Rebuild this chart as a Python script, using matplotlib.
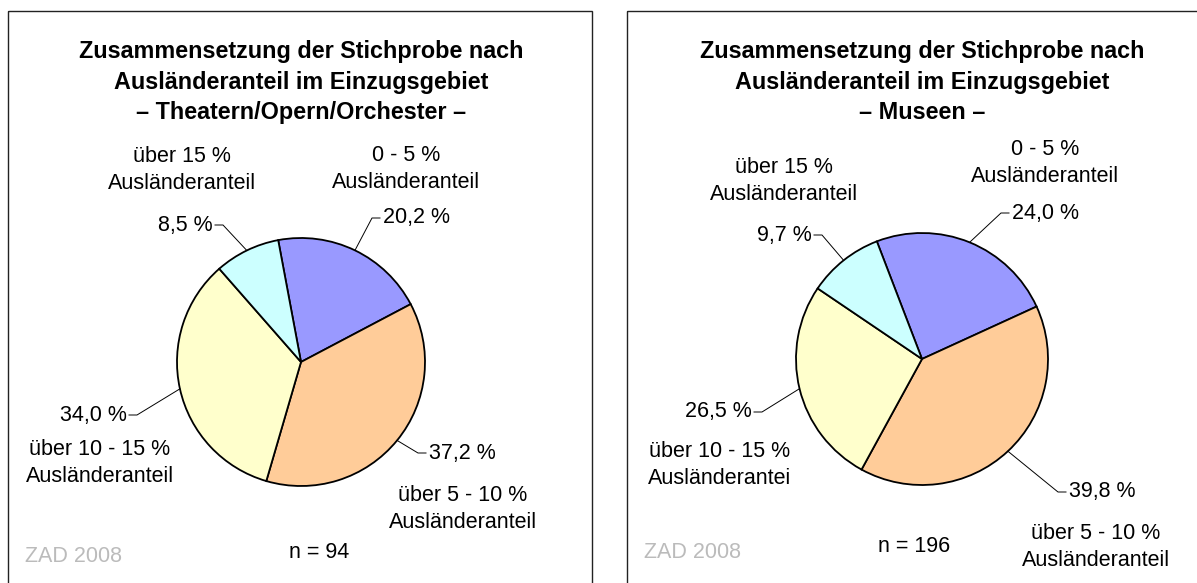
import numpy as np
import matplotlib
matplotlib.use("Agg")
import matplotlib.pyplot as plt
import matplotlib.patches as patches

plt.rcParams['font.family'] = ['Liberation Sans', 'DejaVu Sans']

# data
categories = ['0 - 5 %', 'über 5 - 10 %', 'über 10 - 15 %', 'über 15 %']
theater_values = [20.2, 37.2, 34.0, 8.5]
museen_values = [24.0, 39.8, 26.5, 9.7]
theater_cat_labels = ['0 - 5 %\nAusländeranteil', 'über 5 - 10 %\nAusländeranteil',
                      'über 10 - 15 %\nAusländeranteil', 'über 15 %\nAusländeranteil']
museen_cat_labels = ['0 - 5 %\nAusländeranteil', 'über 5 - 10 %\nAusländeranteil',
                     'über 10 - 15 %\nAusländerantei', 'über 15 %\nAusländeranteil']
colors = ['#9999FF', '#FFCC99', '#FFFFCC', '#CCFFFF']

W, H = 1197, 583
FS = 15.5
fig = plt.figure(figsize=(W / 100, H / 100), dpi=100)

# overlay axes in pixel coords (y from top)
ov = fig.add_axes([0, 0, 1, 1], zorder=3)
ov.set_xlim(0, W)
ov.set_ylim(H, 0)
ov.axis('off')


def pct(v):
    return f"{v:.1f}".replace('.', ',') + " %"


def draw_panel(x0, x1, subtitle, values, cat_labels, center, r, start,
               cat_pos, val_pos, n_text, n_pos):
    # frame
    ov.add_patch(patches.Rectangle((x0, 11), x1 - x0, 620, fill=False,
                                   ec='#222222', lw=1.0))
    cx, cy = center
    ov.text(cx, 82, "Zusammensetzung der Stichprobe nach\nAusländeranteil im Einzugsgebiet\n– "
            + subtitle + " –", ha='center', va='center', fontsize=16.8,
            fontweight='bold', linespacing=1.43)

    lim = 1.05
    s = r * lim
    ax = fig.add_axes([(cx - s) / W, 1 - (cy + s) / H, 2 * s / W, 2 * s / H], zorder=2)
    wedges, _ = ax.pie(values, colors=colors, startangle=start, counterclock=False,
                       radius=1, wedgeprops=dict(edgecolor='black', linewidth=1.3))
    ax.set_xlim(-lim, lim)
    ax.set_ylim(-lim, lim)
    ax.axis('off')

    for w, v, lab, cp, vp in zip(wedges, values, cat_labels, cat_pos, val_pos):
        ang = np.deg2rad((w.theta1 + w.theta2) / 2)
        disp = ax.transData.transform((np.cos(ang), np.sin(ang)))
        ex, ey = ov.transData.inverted().transform(disp)
        lx, ly, side = vp
        if side == 'left':
            # label to the right of the leader
            ov.plot([ex, lx - 11, lx - 3], [ey, ly, ly], color='black', lw=0.7)
            ov.text(lx, ly, pct(v), ha='left', va='center', fontsize=FS)
        else:
            ov.plot([ex, lx + 10, lx + 2], [ey, ly, ly], color='black', lw=0.7)
            ov.text(lx, ly, pct(v), ha='right', va='center', fontsize=FS)
        ov.text(cp[0], cp[1], lab, ha='center', va='center', fontsize=FS,
                linespacing=1.42, multialignment='center')

    ov.text(n_pos[0], n_pos[1], n_text, ha='center', va='center', fontsize=FS)
    ov.text(x0 + 17, n_pos[1] + 5, "ZAD 2008", ha='left', va='center',
            fontsize=FS, color='#BBBBBB')


draw_panel(8, 592, "Theatern/Opern/Orchester", theater_values, theater_cat_labels,
           center=(301, 362), r=124, start=100.6,
           cat_pos=[(406, 169), (463, 509), (100, 463), (182, 170)],
           val_pos=[(383, 218, 'left'), (429, 453, 'left'),
                    (127, 415, 'right'), (213, 225, 'right')],
           n_text="n = 94", n_pos=(319, 552))

draw_panel(627, 1230, "Museen", museen_values, museen_cat_labels,
           center=(922, 359), r=126, start=111,
           cat_pos=[(1045, 163), (1096, 547), (720, 465), (784, 181)],
           val_pos=[(1012, 213, 'left'), (1069, 492, 'left'),
                    (752, 412, 'right'), (812, 235, 'right')],
           n_text="n = 196", n_pos=(914, 547))

plt.savefig("out.png", dpi=100)
